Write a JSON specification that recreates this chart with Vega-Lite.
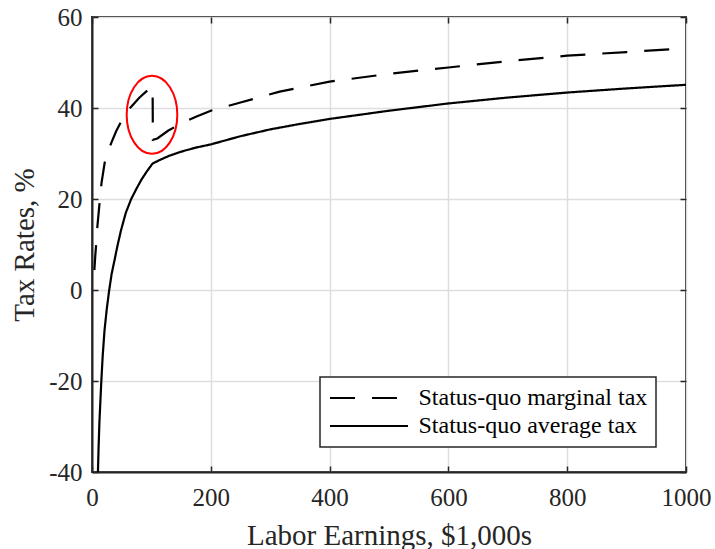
{
  "$schema": "https://vega.github.io/schema/vega-lite/v6.json",
  "width": 594,
  "height": 455,
  "autosize": {"type": "none"},
  "padding": {"left": 92, "top": 17, "right": 29, "bottom": 77},
  "background": "white",
  "config": {
    "view": {"stroke": "#262626", "strokeWidth": 2},
    "font": "Liberation Serif",
    "axis": {
      "labelFont": "Liberation Serif",
      "titleFont": "Liberation Serif",
      "labelFontSize": 25,
      "titleFontSize": 29,
      "titleFontWeight": "normal",
      "labelColor": "#262626",
      "titleColor": "#262626",
      "domainColor": "#262626",
      "domainWidth": 2,
      "tickColor": "#262626",
      "tickWidth": 1.5,
      "tickSize": -6,
      "gridColor": "#dedede",
      "gridWidth": 1.5,
      "labelFlush": false,
      "labelOverlap": false,
      "labelExpr": "datum.value + ''"
    },
    "legend": {
      "labelFont": "Liberation Serif",
      "labelFontSize": 24,
      "labelColor": "black",
      "labelLimit": 500,
      "strokeWidth": 1.5
    }
  },
  "datasets": {
    "curves": [
      {"series": "Status-quo marginal tax", "ord": 1, "earn": 4, "rate": 4.4},
      {"series": "Status-quo marginal tax", "ord": 2, "earn": 5.5, "rate": 7.5},
      {"series": "Status-quo marginal tax", "ord": 3, "earn": 7.3, "rate": 10.5},
      {"series": "Status-quo marginal tax", "ord": 4, "earn": 9, "rate": 13.9},
      {"series": "Status-quo marginal tax", "ord": 5, "earn": 13, "rate": 19.5},
      {"series": "Status-quo marginal tax", "ord": 6, "earn": 16, "rate": 23.5},
      {"series": "Status-quo marginal tax", "ord": 7, "earn": 21.4, "rate": 28},
      {"series": "Status-quo marginal tax", "ord": 8, "earn": 27, "rate": 30.5},
      {"series": "Status-quo marginal tax", "ord": 9, "earn": 33, "rate": 32.5},
      {"series": "Status-quo marginal tax", "ord": 10, "earn": 41, "rate": 35},
      {"series": "Status-quo marginal tax", "ord": 11, "earn": 49, "rate": 37},
      {"series": "Status-quo marginal tax", "ord": 12, "earn": 58, "rate": 39},
      {"series": "Status-quo marginal tax", "ord": 13, "earn": 66, "rate": 40.3},
      {"series": "Status-quo marginal tax", "ord": 14, "earn": 80, "rate": 42.3},
      {"series": "Status-quo marginal tax", "ord": 15, "earn": 97, "rate": 44.3},
      {"series": "Status-quo marginal tax", "ord": 16, "earn": 102, "rate": 44.6},
      {"series": "Status-quo marginal tax", "ord": 17, "earn": 102.5, "rate": 33},
      {"series": "Status-quo marginal tax", "ord": 18, "earn": 110, "rate": 33.3},
      {"series": "Status-quo marginal tax", "ord": 19, "earn": 128, "rate": 35},
      {"series": "Status-quo marginal tax", "ord": 20, "earn": 150, "rate": 36.6},
      {"series": "Status-quo marginal tax", "ord": 21, "earn": 175, "rate": 38.1},
      {"series": "Status-quo marginal tax", "ord": 22, "earn": 200, "rate": 39.4},
      {"series": "Status-quo marginal tax", "ord": 23, "earn": 250, "rate": 41.2},
      {"series": "Status-quo marginal tax", "ord": 24, "earn": 316, "rate": 43.6},
      {"series": "Status-quo marginal tax", "ord": 25, "earn": 400, "rate": 45.8},
      {"series": "Status-quo marginal tax", "ord": 26, "earn": 500, "rate": 47.5},
      {"series": "Status-quo marginal tax", "ord": 27, "earn": 569, "rate": 48.5},
      {"series": "Status-quo marginal tax", "ord": 28, "earn": 600, "rate": 48.9},
      {"series": "Status-quo marginal tax", "ord": 29, "earn": 700, "rate": 50.3},
      {"series": "Status-quo marginal tax", "ord": 30, "earn": 800, "rate": 51.5},
      {"series": "Status-quo marginal tax", "ord": 31, "earn": 900, "rate": 52.3},
      {"series": "Status-quo marginal tax", "ord": 32, "earn": 1000, "rate": 53.1},
      {"series": "Status-quo average tax", "ord": 1, "earn": 10, "rate": -40},
      {"series": "Status-quo average tax", "ord": 2, "earn": 11, "rate": -35},
      {"series": "Status-quo average tax", "ord": 3, "earn": 12.5, "rate": -29},
      {"series": "Status-quo average tax", "ord": 4, "earn": 15.7, "rate": -20},
      {"series": "Status-quo average tax", "ord": 5, "earn": 18, "rate": -14.5},
      {"series": "Status-quo average tax", "ord": 6, "earn": 21, "rate": -9},
      {"series": "Status-quo average tax", "ord": 7, "earn": 25, "rate": -4},
      {"series": "Status-quo average tax", "ord": 8, "earn": 29, "rate": 0},
      {"series": "Status-quo average tax", "ord": 9, "earn": 33, "rate": 3.5},
      {"series": "Status-quo average tax", "ord": 10, "earn": 38, "rate": 6.6},
      {"series": "Status-quo average tax", "ord": 11, "earn": 43, "rate": 9.8},
      {"series": "Status-quo average tax", "ord": 12, "earn": 49, "rate": 13.2},
      {"series": "Status-quo average tax", "ord": 13, "earn": 57, "rate": 17},
      {"series": "Status-quo average tax", "ord": 14, "earn": 66, "rate": 20},
      {"series": "Status-quo average tax", "ord": 15, "earn": 75, "rate": 22.3},
      {"series": "Status-quo average tax", "ord": 16, "earn": 83, "rate": 24.2},
      {"series": "Status-quo average tax", "ord": 17, "earn": 92, "rate": 26},
      {"series": "Status-quo average tax", "ord": 18, "earn": 102, "rate": 27.8},
      {"series": "Status-quo average tax", "ord": 19, "earn": 114.5, "rate": 28.6},
      {"series": "Status-quo average tax", "ord": 20, "earn": 130, "rate": 29.5},
      {"series": "Status-quo average tax", "ord": 21, "earn": 150, "rate": 30.4},
      {"series": "Status-quo average tax", "ord": 22, "earn": 175, "rate": 31.3},
      {"series": "Status-quo average tax", "ord": 23, "earn": 200, "rate": 32.0},
      {"series": "Status-quo average tax", "ord": 24, "earn": 250, "rate": 33.8},
      {"series": "Status-quo average tax", "ord": 25, "earn": 300, "rate": 35.3},
      {"series": "Status-quo average tax", "ord": 26, "earn": 350, "rate": 36.5},
      {"series": "Status-quo average tax", "ord": 27, "earn": 400, "rate": 37.6},
      {"series": "Status-quo average tax", "ord": 28, "earn": 500, "rate": 39.4},
      {"series": "Status-quo average tax", "ord": 29, "earn": 600, "rate": 41.0},
      {"series": "Status-quo average tax", "ord": 30, "earn": 700, "rate": 42.3},
      {"series": "Status-quo average tax", "ord": 31, "earn": 800, "rate": 43.4},
      {"series": "Status-quo average tax", "ord": 32, "earn": 900, "rate": 44.3},
      {"series": "Status-quo average tax", "ord": 33, "earn": 1000, "rate": 45.1}
    ],
    "highlight": [
      {"earn": 101, "rate": 38.5}
    ]
  },
  "layer": [
    {
      "data": {"name": "curves"},
      "mark": {"type": "line", "color": "black", "strokeWidth": 2.2, "clip": true},
      "encoding": {
        "x": {
          "field": "earn", "type": "quantitative",
          "scale": {"domain": [0, 1000], "nice": false, "zero": false},
          "axis": {
            "orient": "bottom",
            "values": [0, 200, 400, 600, 800, 1000],
            "grid": true,
            "labelPadding": 19,
            "title": "Labor Earnings, $1,000s",
            "titlePadding": 11
          }
        },
        "y": {
          "field": "rate", "type": "quantitative",
          "scale": {"domain": [-40, 60], "nice": false, "zero": false},
          "axis": {
            "orient": "left",
            "values": [-40, -20, 0, 20, 40, 60],
            "grid": true,
            "labelPadding": 16,
            "title": "Tax Rates, %",
            "titlePadding": 9
          }
        },
        "strokeDash": {
          "field": "series", "type": "nominal",
          "scale": {
            "domain": ["Status-quo marginal tax", "Status-quo average tax"],
            "range": [[25, 17], [1, 0]]
          },
          "legend": {
            "title": null,
            "orient": "none",
            "legendX": 228,
            "legendY": 360,
            "fillColor": "white",
            "strokeColor": "#262626",
            "padding": 8.5,
            "symbolType": "stroke",
            "symbolSize": 6084,
            "symbolStrokeWidth": 2.2,
            "symbolStrokeColor": "black",
            "clipHeight": 25,
            "rowPadding": 3,
            "labelOffset": 9,
            "cornerRadius": 0
          }
        },
        "order": {"field": "ord", "type": "quantitative"}
      }
    },
    {
      "data": {"name": "highlight"},
      "mark": {
        "type": "point",
        "shape": "M 0,-1 A 0.649,1 0 1,1 0,1 A 0.649,1 0 1,1 0,-1 Z",
        "size": 6084,
        "filled": false,
        "stroke": "#ff0000",
        "strokeWidth": 2,
        "opacity": 1
      },
      "encoding": {
        "x": {
          "field": "earn", "type": "quantitative",
          "axis": {
            "orient": "top",
            "values": [0, 200, 400, 600, 800, 1000],
            "labels": false, "grid": false, "domain": false, "title": null
          }
        },
        "y": {
          "field": "rate", "type": "quantitative",
          "axis": {
            "orient": "right",
            "values": [-40, -20, 0, 20, 40, 60],
            "labels": false, "grid": false, "domain": false, "title": null
          }
        }
      }
    }
  ],
  "resolve": {"axis": {"x": "independent", "y": "independent"}}
}
